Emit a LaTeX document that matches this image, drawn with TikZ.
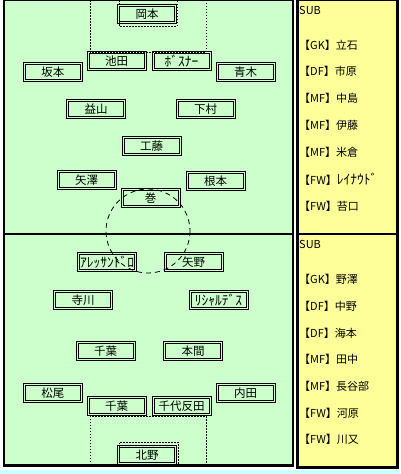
\documentclass[tikz,border=0pt]{standalone}
\usepackage{fontspec}
\newfontfamily\jpfont{Noto Sans CJK JP}
\usetikzlibrary{positioning}
\definecolor{pitchgreen}{HTML}{CCFFCC}
\definecolor{subyellow}{HTML}{FFFF99}
\definecolor{stripcyan}{HTML}{CCFFFF}
\newcommand{\hwkana}[1]{{\fontsize{13.5}{12}\selectfont #1}}
\tikzset{
  player/.style={draw=black, line width=1pt, double=pitchgreen, double distance=1pt,
    minimum width=57pt, minimum height=17pt, inner sep=0pt,
    font=\jpfont\fontsize{11.5}{12}\selectfont},
  subentry/.style={anchor=west, inner sep=0pt, font=\jpfont\fontsize{11}{12}\selectfont},
  fieldmark/.style={line width=0.8pt, dash pattern=on 1.5pt off 1.5pt},
  circlemark/.style={line width=0.8pt, dash pattern=on 5pt off 4pt},
}

\begin{document}
\begin{tikzpicture}[x=1pt, y=-1pt]
      \useasboundingbox (0,0) rectangle (400,474);
      % Background
      \fill[white] (0,0) rectangle (400,474);
      \fill[stripcyan] (0,470) rectangle (400,474);
      \fill[pitchgreen] (4,0) rectangle (293,465.5);
      \fill[subyellow] (297.5,0) rectangle (397.5,467.5);

      % Players (upper half)
      \node[player] (okamoto) at (147,14) {岡本};
      \node[player] (ikeda) at (116.5,61) {池田};
      \node[player] (bosnar) at (181.5,61) {\hwkana{ﾎﾞｽﾅｰ}};
      \node[player] (sakamoto) at (53,72) {坂本};
      \node[player] (aoki) at (245.5,72) {青木};
      \node[player] (masuyama) at (96,109) {益山};
      \node[player] (shimomura) at (205.5,109) {下村};
      \node[player] (kudo) at (151.5,146) {工藤};
      \node[player] (yazawa) at (86.5,180) {矢澤};
      \node[player] (nemoto) at (215.5,181) {根本};
      \node[player] (maki) at (150.5,198) {巻};

      % Players (lower half)
      \node[player] (alessandro) at (107,262) {\hwkana{ｱﾚｯｻﾝﾄﾞﾛ}};
      \node[player] (yano) at (193.5,262) {矢野};
      \node[player] (terakawa) at (83,300) {寺川};
      \node[player] (richardes) at (218.5,300) {\hwkana{ﾘｼｬﾙﾃﾞｽ}};
      \node[player] (chibamid) at (105.5,351) {千葉};
      \node[player] (homma) at (193,351) {本間};
      \node[player] (matsuo) at (53,393) {松尾};
      \node[player] (uchida) at (245.5,393) {内田};
      \node[player] (chibadef) at (116.5,406) {千葉};
      \node[player] (chiyotanda) at (181.5,406) {千代反田};
      \node[player] (kitano) at (147,455) {北野};

      % Field markings
      \draw[fieldmark] (90,0) -- (90,52) -- (206,52) -- (206,0);
      \draw[fieldmark] (119,0) -- (119,26) -- (177,26) -- (177,0);
      \draw[fieldmark] (90,465) -- (90,416) -- (206,416) -- (206,465);
      \draw[fieldmark] (119,465) -- (119,442) -- (178,442) -- (178,465);
      \draw[circlemark] (148,231) circle [radius=42];

      % Frames
      \draw[line width=2.5pt] (4,0) rectangle (293,465.5);
      \draw[line width=2.5pt] (4,234) -- (293,234);
      \draw[line width=2.5pt] (297.5,0) rectangle (397.5,467.5);
      \draw[line width=2.5pt] (297.5,234) -- (397.5,234);

      % Substitutes
      \node[subentry] (subhome) at (299,10) {SUB};
      \node[subentry] (tateishi) at (299,45) {【GK】立石};
      \node[subentry] (ichihara) at (299,71) {【DF】市原};
      \node[subentry] (nakajima) at (299,98) {【MF】中島};
      \node[subentry] (ito) at (299,125) {【MF】伊藤};
      \node[subentry] (yonekura) at (299,152) {【MF】米倉};
      \node[subentry] (reinaldo) at (299,179) {【FW】\hwkana{ﾚｲﾅｳﾄﾞ}};
      \node[subentry] (kokeguchi) at (299,206) {【FW】苔口};

      \node[subentry] (subaway) at (299,244) {SUB};
      \node[subentry] (nozawa) at (299,279) {【GK】野澤};
      \node[subentry] (nakano) at (299,306) {【DF】中野};
      \node[subentry] (kaimoto) at (299,333) {【DF】海本};
      \node[subentry] (tanaka) at (299,359) {【MF】田中};
      \node[subentry] (hasebe) at (299,386) {【MF】長谷部};
      \node[subentry] (kawahara) at (299,413) {【FW】河原};
      \node[subentry] (kawamata) at (299,439) {【FW】川又};
    \end{tikzpicture}
\end{document}
